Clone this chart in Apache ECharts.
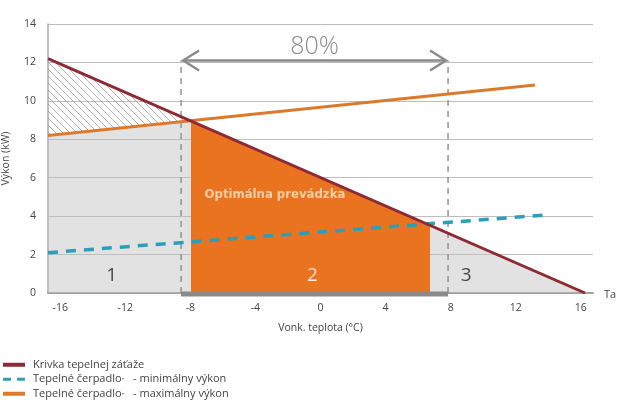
<!DOCTYPE html>
<html>
<head>
<meta charset="utf-8">
<script src="https://cdn.jsdelivr.net/npm/echarts@6/dist/echarts.min.js"></script>
<style>
  html, body { margin: 0; padding: 0; background: #fff; }
  #chart { width: 619px; height: 405px; }
</style>
</head>
<body>
<div id="chart"></div>
<script>
// outdoor temperature ticks
const xTicks = [-16, -12, -8, -4, 0, 4, 8, 12, 16];

// heat load curve (kW) vs outdoor temperature
const loadCurve = [[-16.75, 12.2], [16.26, 0]];
// heat pump max / min output
const maxOutput = [[-16.75, 8.2], [13.18, 10.83]];
const minOutput = [[-16.75, 2.1], [13.98, 4.07]];

// zones: bivalent point, end of optimal zone
const zone1 = [[-16.75, 8.2], [-7.96, 8.97]];
const zone2 = [[-7.96, 8.96], [6.73, 3.52]];
const zone3 = [[6.73, 3.52], [16.26, 0]];
const hatchTop = [[-16.75, 12.2], [-7.96, 8.96]];

// 80 % range
const range80 = [[-8.57, 7.84]];
const arrowLevel = 12.1;

const zoneLabels = [
  { value: [-12.83, 0.92], name: '1', color: '#1a1a1a' },
  { value: [-0.5, 0.92], name: '2', color: '#fff' },
  { value: [8.95, 0.92], name: '3', color: '#1a1a1a' }
];

const legendNames = ['Krivka tepelnej záťaže', 'Tepelné čerpadlo·   - minimálny výkon', 'Tepelné čerpadlo·   - maximálny výkon'];

const FONT = '"Open Sans", "Noto Sans", sans-serif';

function hatchPattern() {
  const c = document.createElement('canvas');
  c.width = 7; c.height = 7;
  const ctx = c.getContext('2d');
  ctx.strokeStyle = '#808080';
  ctx.lineWidth = 0.6;
  ctx.beginPath();
  ctx.moveTo(-1, -1); ctx.lineTo(8, 8);
  ctx.moveTo(-1, 6); ctx.lineTo(1, 8);
  ctx.moveTo(6, -1); ctx.lineTo(8, 1);
  ctx.stroke();
  return { image: c, repeat: 'repeat' };
}

function areaSeries(name, data, color) {
  return {
    name, type: 'line', data, symbol: 'none', silent: true,
    lineStyle: { width: 0 }, areaStyle: { color, opacity: 1 }
  };
}

const chart = echarts.init(document.getElementById('chart'), null, { renderer: 'canvas' });

chart.setOption({
  animation: false,
  textStyle: { fontFamily: FONT },
  grid: { left: 48, right: 26, top: 24, bottom: 112, outerBoundsMode: 'none', containLabel: false },
  legend: {
    orient: 'vertical', left: 3, top: 358, padding: 0,
    itemWidth: 22, itemHeight: 4, itemGap: 1,
    data: [
      { name: legendNames[0], icon: 'rect', itemStyle: { color: '#8e2a33' } },
      { name: legendNames[1], icon: 'path://M0,0h8v3h-8z M14,0h8v3h-8z', itemStyle: { color: '#2a9fba' } },
      { name: legendNames[2], icon: 'rect', itemStyle: { color: '#dc7a2c' } }
    ],
    textStyle: { fontSize: 11, color: '#444', fontFamily: FONT, lineHeight: 13.5, padding: [0, 0, 0, 3] }
  },
  xAxis: {
    type: 'value', min: -16.75, max: 16.75,
    name: 'Vonk. teplota (°C)', nameLocation: 'middle', nameGap: 30,
    nameTextStyle: { fontSize: 10.5, color: '#444' },
    axisLine: { lineStyle: { color: '#a0a0a0', width: 2 } },
    axisTick: { show: false },
    splitLine: { show: false },
    axisLabel: { customValues: xTicks, fontSize: 10.5, color: '#444', margin: 10 }
  },
  yAxis: {
    type: 'value', min: 0, max: 14, interval: 2,
    name: 'Výkon (kW)', nameLocation: 'middle', nameGap: 36,
    nameTextStyle: { fontSize: 10.5, color: '#444' },
    axisLine: { show: true, onZero: false, lineStyle: { color: '#a8a8a8', width: 1.5 } },
    axisTick: { show: false },
    splitLine: { lineStyle: { color: '#bdbdbd', width: 1 } },
    axisLabel: { fontSize: 10.5, color: '#444', margin: 12 }
  },
  graphic: [
    { type: 'text', left: 604, top: 289, style: { text: 'Ta', fontSize: 11, fill: '#444', fontFamily: FONT } }
  ],
  series: [
    {
      name: 'hatch', type: 'custom', silent: true, data: [0],
      renderItem(params, api) {
        const pts = hatchTop.map(p => api.coord(p))
          .concat(zone1.slice().reverse().map(p => api.coord(p)));
        return { type: 'polygon', shape: { points: pts }, style: { fill: hatchPattern() } };
      }
    },
    areaSeries('zone1', zone1, 'rgba(190,190,190,0.45)'),
    areaSeries('zone3', zone3, 'rgba(190,190,190,0.45)'),
    areaSeries('zone2', zone2, '#e9731f'),
    {
      name: 'range', type: 'custom', silent: true, data: range80, z: 5,
      renderItem(params, api) {
        const a = api.value(0), b = api.value(1);
        const l0 = api.coord([a, 0]), l1 = api.coord([a, arrowLevel]);
        const r0 = api.coord([b, 0]), r1 = api.coord([b, arrowLevel]);
        const dash = { stroke: '#8c8c8c', lineWidth: 1.4, lineDash: [6, 5] };
        const arrow = { stroke: '#8a8a8a', lineWidth: 2.4, fill: null };
        return {
          type: 'group',
          children: [
            { type: 'line', shape: { x1: l0[0], y1: l0[1], x2: l1[0], y2: l1[1] }, style: dash },
            { type: 'line', shape: { x1: r0[0], y1: r0[1], x2: r1[0], y2: r1[1] }, style: dash },
            { type: 'line', shape: { x1: l1[0] + 2, y1: l1[1], x2: r1[0] - 2, y2: r1[1] }, style: arrow },
            { type: 'polyline', shape: { points: [[l1[0] + 18, l1[1] - 10], [l1[0] + 2, l1[1]], [l1[0] + 18, l1[1] + 10]] }, style: arrow },
            { type: 'polyline', shape: { points: [[r1[0] - 18, r1[1] - 10], [r1[0] - 2, r1[1]], [r1[0] - 18, r1[1] + 10]] }, style: arrow },
            { type: 'line', shape: { x1: l0[0], y1: l0[1] + 1, x2: r0[0], y2: r0[1] + 1 }, style: { stroke: '#8a8a8a', lineWidth: 5 } },
            { type: 'text', x: (l1[0] + r1[0]) / 2, y: l1[1] - 14, style: { text: '80%', fontSize: 25, fill: '#8a8a8a', fontFamily: FONT, fontWeight: 300, align: 'center', verticalAlign: 'middle' } }
          ]
        };
      }
    },
    {
      name: legendNames[1], type: 'line', data: minOutput, symbol: 'none', z: 6,
      lineStyle: { color: '#2a9fba', width: 3.5, type: [10, 8] }, itemStyle: { color: '#2a9fba' }
    },
    {
      name: legendNames[2], type: 'line', data: maxOutput, symbol: 'none', z: 6,
      lineStyle: { color: '#dc7a2c', width: 3 }, itemStyle: { color: '#dc7a2c' }
    },
    {
      name: legendNames[0], type: 'line', data: loadCurve, symbol: 'none', z: 7,
      lineStyle: { color: '#8e2a33', width: 3 }, itemStyle: { color: '#8e2a33' }
    },
    {
      name: 'labels', type: 'scatter', silent: true, symbolSize: 0, z: 10, data: zoneLabels.map(d => ({
        value: d.value,
        label: { show: true, formatter: d.name, color: d.color, fontSize: 19, position: 'inside' }
      }))
    },
    {
      name: 'optimal', type: 'scatter', silent: true, symbolSize: 0, z: 10, data: [[-2.8, 5.1]],
      label: { show: true, formatter: 'Optimálna prevádzka', position: 'inside', color: '#fce2c2', fontSize: 13, fontWeight: 'bold', fontFamily: '"Liberation Sans Narrow", "DejaVu Sans Condensed", sans-serif' }
    }
  ]
});
</script>
</body>
</html>
